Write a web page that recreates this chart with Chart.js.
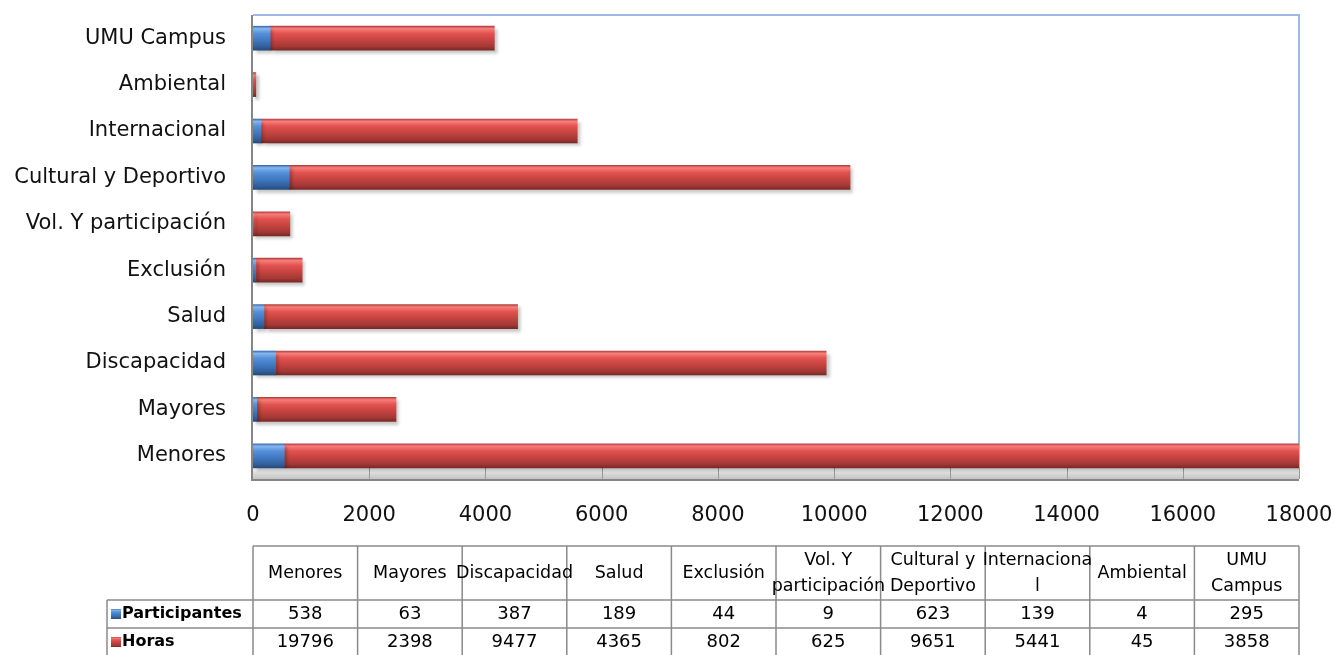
<!DOCTYPE html>
<html>
<head>
<meta charset="utf-8">
<script src="https://cdn.jsdelivr.net/npm/chart.js@4.4.1/dist/chart.umd.min.js"></script>
<style>
  html, body { margin: 0; padding: 0; background: #fff; }
  #wrap { width: 1334px; height: 655px; overflow: hidden; }
</style>
</head>
<body>
<div id="wrap"><canvas id="chart" width="1334" height="655"></canvas></div>
<script>
// categorías (orden de la tabla, de abajo arriba en el gráfico)
const categorias = ['Menores', 'Mayores', 'Discapacidad', 'Salud', 'Exclusión',
  'Vol. Y participación', 'Cultural y Deportivo', 'Internacional', 'Ambiental', 'UMU Campus'];

// cabeceras de la tabla (con los saltos de línea del original)
const cabeceras = [['Menores'], ['Mayores'], ['Discapacidad'], ['Salud'], ['Exclusión'],
  ['Vol. Y', 'participación'], ['Cultural y', 'Deportivo'], ['Internaciona', 'l'], ['Ambiental'], ['UMU', 'Campus']];

const participantes = [538, 63, 387, 189, 44, 9, 623, 139, 4, 295];
const horas = [19796, 2398, 9477, 4365, 802, 625, 9651, 5441, 45, 3858];

const ejeX = { min: 0, max: 18000, paso: 2000 };

const FONT = '"DejaVu Sans", sans-serif';

// degradado vertical para imitar el relieve de las barras
function degradado(paradas) {
  return function(ctx) {
    const chart = ctx.chart;
    const y = chart.scales.y;
    if (!y || ctx.dataIndex === undefined) return paradas[3][1];
    const yc = y.getPixelForValue(ctx.dataIndex);
    if (!isFinite(yc)) return paradas[3][1];
    const g = chart.ctx.createLinearGradient(0, yc - 12, 0, yc + 12);
    paradas.forEach(p => g.addColorStop(p[0], p[1]));
    return g;
  };
}

const azul = [[0, '#3c6eae'], [0.1, '#86b6f0'], [0.3, '#5590da'], [0.6, '#3f77c0'], [0.85, '#335f9c'], [1, '#264a7c']];
const rojo = [[0, '#b5403d'], [0.1, '#f77e7b'], [0.3, '#e2524f'], [0.6, '#c2423f'], [0.85, '#a13835'], [1, '#7a2927']];

// sin márgenes extra por las etiquetas
function sinPadding(scale) {
  scale.paddingLeft = 0;
  scale.paddingRight = 0;
  scale.paddingTop = 0;
  scale.paddingBottom = 0;
}

const tablaPlugin = {
  id: 'tabla',
  beforeDatasetsDraw(chart) {
    const { ctx, chartArea: a } = chart;
    const x = chart.scales.x;
    ctx.save();
    // suelo 3D bajo las barras
    const g = ctx.createLinearGradient(0, a.bottom - 11, 0, a.bottom);
    g.addColorStop(0, '#f4f4f4');
    g.addColorStop(0.5, '#dadada');
    g.addColorStop(1, '#c4c4c4');
    ctx.fillStyle = g;
    ctx.fillRect(a.left, a.bottom - 11, a.right - a.left, 11);
    ctx.strokeStyle = '#9a9a9a';
    ctx.lineWidth = 1;
    for (let v = ejeX.min + ejeX.paso; v <= ejeX.max; v += ejeX.paso) {
      const px = Math.round(x.getPixelForValue(v)) + 0.5;
      ctx.beginPath();
      ctx.moveTo(px, a.bottom - 11);
      ctx.lineTo(px, a.bottom);
      ctx.stroke();
    }
    // borde del área de trazado
    ctx.strokeStyle = '#9db8e2';
    ctx.lineWidth = 2;
    ctx.beginPath();
    ctx.moveTo(a.left, a.top);
    ctx.lineTo(a.right, a.top);
    ctx.lineTo(a.right, a.bottom - 11);
    ctx.stroke();
    ctx.strokeStyle = '#868686';
    ctx.beginPath();
    ctx.moveTo(a.left - 1, a.top);
    ctx.lineTo(a.left - 1, a.bottom + 1);
    ctx.lineTo(a.right, a.bottom + 1);
    ctx.stroke();
    ctx.restore();
    // sombra de las barras
    ctx.save();
    ctx.shadowColor = 'rgba(0,0,0,0.22)';
    ctx.shadowOffsetX = 3;
    ctx.shadowOffsetY = 3;
    ctx.shadowBlur = 3;
  },
  afterDatasetsDraw(chart) {
    chart.ctx.restore();
  },
  afterDraw(chart) {
    const { ctx, chartArea: a } = chart;
    const n = categorias.length;
    const w = (a.right - a.left) / n;
    const top = 546, h0 = 54, h1 = 28;
    const leftLeg = 107;
    const filas = [
      { nombre: 'Participantes', datos: participantes, col: azul },
      { nombre: 'Horas', datos: horas, col: rojo }
    ];
    ctx.save();
    ctx.strokeStyle = '#8a8a8a';
    ctx.lineWidth = 1.5;
    // líneas horizontales
    ctx.beginPath();
    ctx.moveTo(a.left, top); ctx.lineTo(a.right, top);
    for (let r = 0; r < filas.length; r++) {
      const y = top + h0 + r * h1;
      ctx.moveTo(leftLeg, y); ctx.lineTo(a.right, y);
    }
    ctx.stroke();
    // líneas verticales
    ctx.beginPath();
    for (let i = 0; i <= n; i++) {
      const x = a.left + i * w;
      ctx.moveTo(x, top); ctx.lineTo(x, top + h0 + filas.length * h1 + 2);
    }
    ctx.moveTo(leftLeg, top + h0); ctx.lineTo(leftLeg, top + h0 + filas.length * h1 + 2);
    ctx.stroke();

    ctx.fillStyle = '#000';
    ctx.textAlign = 'center';
    ctx.textBaseline = 'middle';
    ctx.font = '17.5px ' + FONT;
    cabeceras.forEach((lineas, i) => {
      const cx = a.left + (i + 0.5) * w;
      if (lineas.length === 1) {
        ctx.fillText(lineas[0], cx, top + h0 / 2);
      } else {
        ctx.fillText(lineas[0], cx, top + 14);
        ctx.fillText(lineas[1], cx, top + 40);
      }
    });
    ctx.font = '18px ' + FONT;
    filas.forEach((f, r) => {
      const cy = top + h0 + r * h1 + h1 / 2;
      f.datos.forEach((v, i) => {
        ctx.textAlign = 'center';
        ctx.fillText(String(v), a.left + (i + 0.5) * w, cy);
      });
      // icono de la leyenda
      const g = ctx.createLinearGradient(0, cy - 5, 0, cy + 5);
      f.col.forEach(p => g.addColorStop(p[0], p[1]));
      ctx.fillStyle = g;
      ctx.fillRect(leftLeg + 4, cy - 5, 10, 10);
      ctx.fillStyle = '#000';
      ctx.textAlign = 'left';
      ctx.font = 'bold 16px ' + FONT;
      ctx.fillText(f.nombre, leftLeg + 15, cy);
      ctx.font = '18px ' + FONT;
    });
    ctx.restore();
  }
};

new Chart(document.getElementById('chart'), {
  type: 'bar',
  data: {
    labels: categorias,
    datasets: [
      { label: 'Participantes', data: participantes, backgroundColor: degradado(azul), barThickness: 24 },
      { label: 'Horas', data: horas, backgroundColor: degradado(rojo), barThickness: 24 }
    ]
  },
  options: {
    indexAxis: 'y',
    responsive: false,
    animation: false,
    layout: { padding: { left: 0, right: 35, top: 15, bottom: 0 } },
    plugins: {
      legend: { display: false },
      tooltip: { enabled: false }
    },
    scales: {
      x: {
        stacked: true,
        min: ejeX.min,
        max: ejeX.max,
        grid: { display: false, drawTicks: false },
        border: { display: false },
        ticks: {
          stepSize: ejeX.paso,
          padding: 24,
          color: '#111',
          maxRotation: 0,
          autoSkip: false,
          font: { family: FONT, size: 21 },
          callback: v => String(v)
        },
        afterFit(scale) { scale.height = 655 - 479; sinPadding(scale); }
      },
      y: {
        stacked: true,
        reverse: true,
        grid: { display: false, drawTicks: false },
        border: { display: false },
        ticks: {
          padding: 27,
          color: '#111',
          font: { family: FONT, size: 21 }
        },
        afterFit(scale) { scale.width = 253; sinPadding(scale); }
      }
    }
  },
  plugins: [tablaPlugin]
});
</script>
</body>
</html>
